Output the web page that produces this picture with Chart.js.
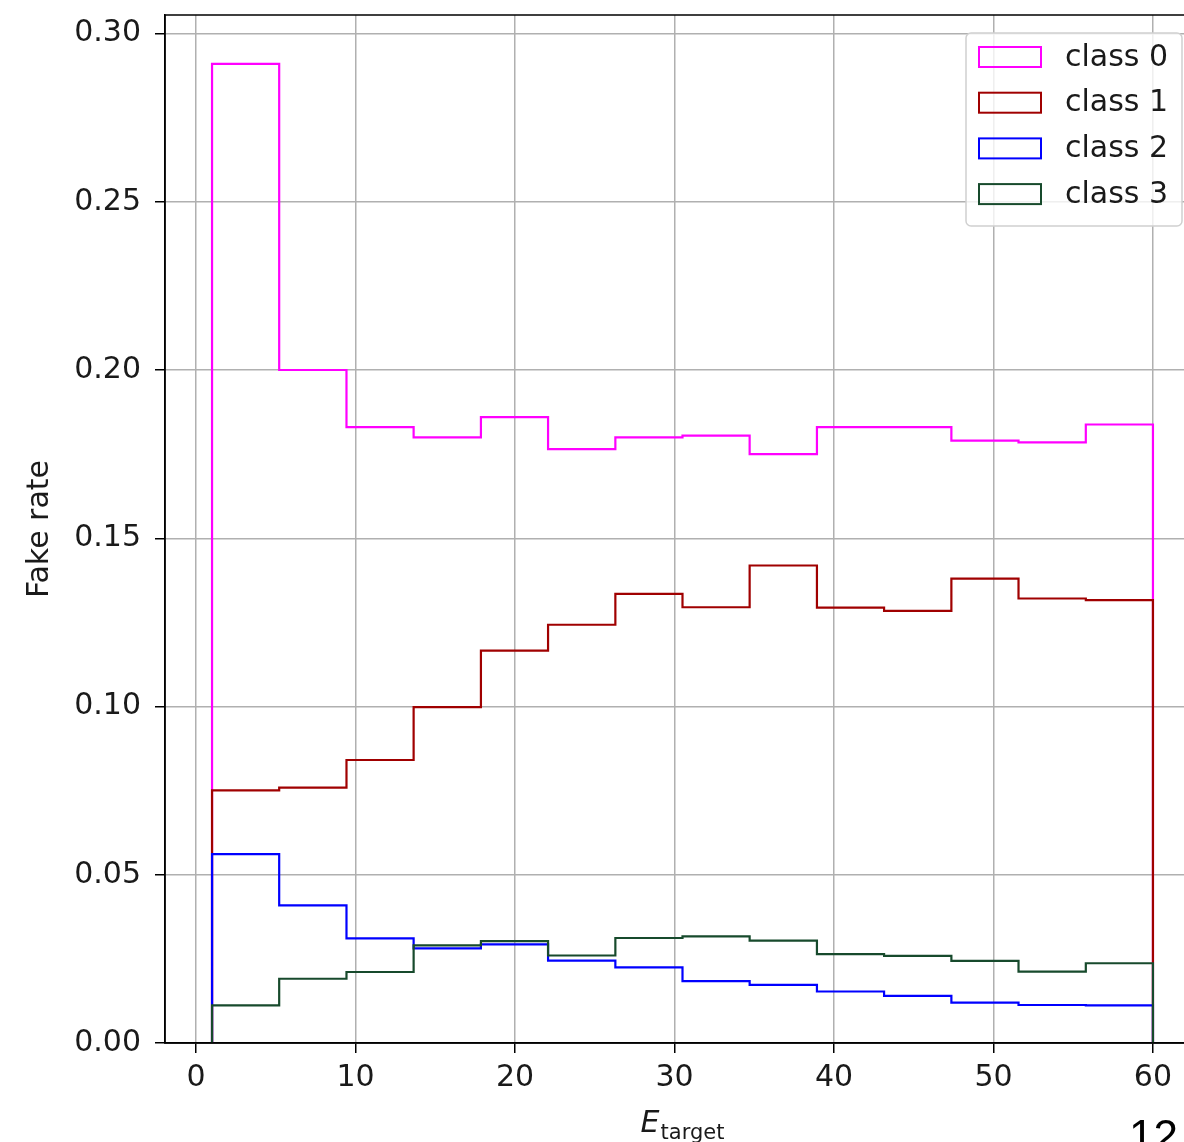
<!DOCTYPE html>
<html>
<head>
<meta charset="utf-8">
<script src="https://cdn.jsdelivr.net/npm/chart.js@4.4.1/dist/chart.umd.min.js"></script>
<style>
  html, body { margin: 0; padding: 0; background: #fff; }
  #wrap { position: relative; width: 1184px; height: 1142px; overflow: hidden; }
  #plot { position: absolute; left: 0; top: 0; }
  #pageNum { position: absolute; left: 1129px; top: 1114px; font: 44px 'Liberation Sans', Arial, sans-serif; line-height: 44px; color: #000; }
</style>
</head>
<body>
<div id="wrap">
  <canvas id="plot" width="1230" height="1142"></canvas>
  <div id="pageNum">12</div>
</div>
<script>
// bin edges of the histogram (14 bins from 1 to 60)
const binEdges = [1, 5.21, 9.43, 13.64, 17.86, 22.07, 26.29, 30.5, 34.71, 38.93, 43.14, 47.36, 51.57, 55.79, 60];

// fake rate per bin
const class0 = [0.291, 0.200, 0.183, 0.180, 0.186, 0.1765, 0.180, 0.1805, 0.175, 0.183, 0.183, 0.179, 0.1785, 0.1838];
const class1 = [0.0751, 0.0759, 0.0841, 0.0998, 0.1166, 0.1243, 0.1335, 0.1295, 0.1419, 0.1294, 0.1284, 0.1380, 0.1321, 0.1316];
const class2 = [0.0561, 0.0409, 0.0311, 0.0281, 0.0293, 0.0245, 0.0225, 0.0184, 0.0173, 0.0153, 0.0140, 0.0120, 0.0113, 0.0112];
const class3 = [0.0112, 0.0191, 0.0211, 0.0290, 0.0303, 0.0260, 0.0312, 0.0317, 0.0304, 0.0264, 0.0259, 0.0244, 0.0212, 0.0237];

const seriesLabels = ['class 0', 'class 1', 'class 2', 'class 3'];
const seriesColors = ['#ff00ff', '#a00000', '#0000ff', '#174a2c'];

const xTicks = [0, 10, 20, 30, 40, 50, 60];
const yTicks = [0, 0.05, 0.10, 0.15, 0.20, 0.25, 0.30];

const FONT = "'DejaVu Sans', sans-serif";
const FONT_SIZE = 30;
Chart.defaults.font.family = FONT;
Chart.defaults.color = '#000';

// outline of a step histogram, starting and ending on the zero line
function stepPoints(vals) {
    let pts = [{ x: binEdges[0], y: 0 }];
    vals.forEach((v, i) => pts.push({ x: binEdges[i], y: v }));
    pts.push({ x: binEdges[binEdges.length - 1], y: vals[vals.length - 1] });
    pts.push({ x: binEdges[binEdges.length - 1], y: 0 });
    return pts;
}

const allSeries = [class0, class1, class2, class3];

const datasets = allSeries.map((vals, i) => ({
    label: seriesLabels[i],
    data: stepPoints(vals),
    borderColor: seriesColors[i],
    borderWidth: 2.2,
    stepped: 'before', // hold each value until the next edge
    fill: false,
    pointRadius: 0,
    order: allSeries.length - 1 - i // later classes drawn on top
}));

// frame, x title with subscript and the legend box
const extrasPlugin = {
    id: 'extras',
    afterDraw(chart) {
        const ctx = chart.ctx;
        const area = chart.chartArea;
        ctx.save();

        // top / right spines
        ctx.strokeStyle = '#000';
        ctx.lineWidth = 1.5;
        ctx.strokeRect(area.left, area.top, area.right - area.left, area.bottom - area.top);

        // x axis title: E_target
        const cx = (area.left + area.right) / 2;
        ctx.fillStyle = '#1a1a1a';
        ctx.textBaseline = 'alphabetic';
        ctx.textAlign = 'left';
        ctx.font = 'italic ' + FONT_SIZE + 'px ' + FONT;
        const wE = ctx.measureText('E').width;
        ctx.font = '21px ' + FONT;
        const wSub = ctx.measureText('target').width;
        const x0 = cx - (wE + 1 + wSub) / 2;
        ctx.font = 'italic ' + FONT_SIZE + 'px ' + FONT;
        ctx.fillText('E', x0, 1132);
        ctx.font = '21px ' + FONT;
        ctx.fillText('target', x0 + wE + 1, 1139);

        // legend
        const lx = area.right - 234, ly = area.top + 18, lw = 216, lh = 193;
        ctx.beginPath();
        ctx.roundRect(lx, ly, lw, lh, 5);
        ctx.fillStyle = 'rgba(255,255,255,0.8)';
        ctx.fill();
        ctx.strokeStyle = '#d0d0d0';
        ctx.lineWidth = 1.5;
        ctx.stroke();

        ctx.font = FONT_SIZE + 'px ' + FONT;
        ctx.textBaseline = 'middle';
        chart.data.datasets.forEach((ds, i) => {
            const ry = ly + 24 + i * 45.7;
            ctx.strokeStyle = ds.borderColor;
            ctx.lineWidth = 2;
            ctx.strokeRect(lx + 13, ry - 10, 62, 20);
            ctx.fillStyle = '#1a1a1a';
            ctx.fillText(ds.label, lx + 99, ry + 1);
        });
        ctx.restore();
    }
};

const ctx = document.getElementById('plot').getContext('2d');
new Chart(ctx, {
    type: 'line',
    data: { datasets: datasets },
    options: {
        responsive: false,
        animation: false,
        layout: { padding: { left: 0, top: 15, right: 30, bottom: 0 } },
        scales: {
            x: {
                type: 'linear',
                min: -1.95,
                max: 62.95,
                afterBuildTicks: (s) => { s.ticks = xTicks.map(v => ({ value: v })); },
                afterFit: (s) => { s.height = 99; s.paddingLeft = 0; s.paddingRight = 0; },
                ticks: {
                    font: { size: FONT_SIZE },
                    color: '#1a1a1a',
                    padding: 7,
                    maxRotation: 0,
                    callback: (v) => String(v)
                },
                grid: {
                    color: '#b0b0b0',
                    lineWidth: 1.5,
                    tickColor: '#000',
                    tickLength: 10,
                    tickWidth: 1.5
                },
                border: { color: '#000', width: 1.5 }
            },
            y: {
                type: 'linear',
                min: 0,
                max: 0.3055,
                afterBuildTicks: (s) => { s.ticks = yTicks.map(v => ({ value: v })); },
                afterFit: (s) => { s.width = 165; s.paddingTop = 0; s.paddingBottom = 0; },
                ticks: {
                    font: { size: FONT_SIZE },
                    color: '#1a1a1a',
                    padding: 14,
                    callback: (v) => Number(v).toFixed(2)
                },
                grid: {
                    color: '#b0b0b0',
                    lineWidth: 1.5,
                    tickColor: '#000',
                    tickLength: 10,
                    tickWidth: 1.5
                },
                border: { color: '#000', width: 1.5 },
                title: {
                    display: true,
                    text: 'Fake rate',
                    font: { size: FONT_SIZE },
                    color: '#1a1a1a',
                    padding: { top: 22, bottom: 0 }
                }
            }
        },
        plugins: {
            legend: { display: false },
            tooltip: { enabled: false }
        }
    },
    plugins: [extrasPlugin]
});
</script>
</body>
</html>
